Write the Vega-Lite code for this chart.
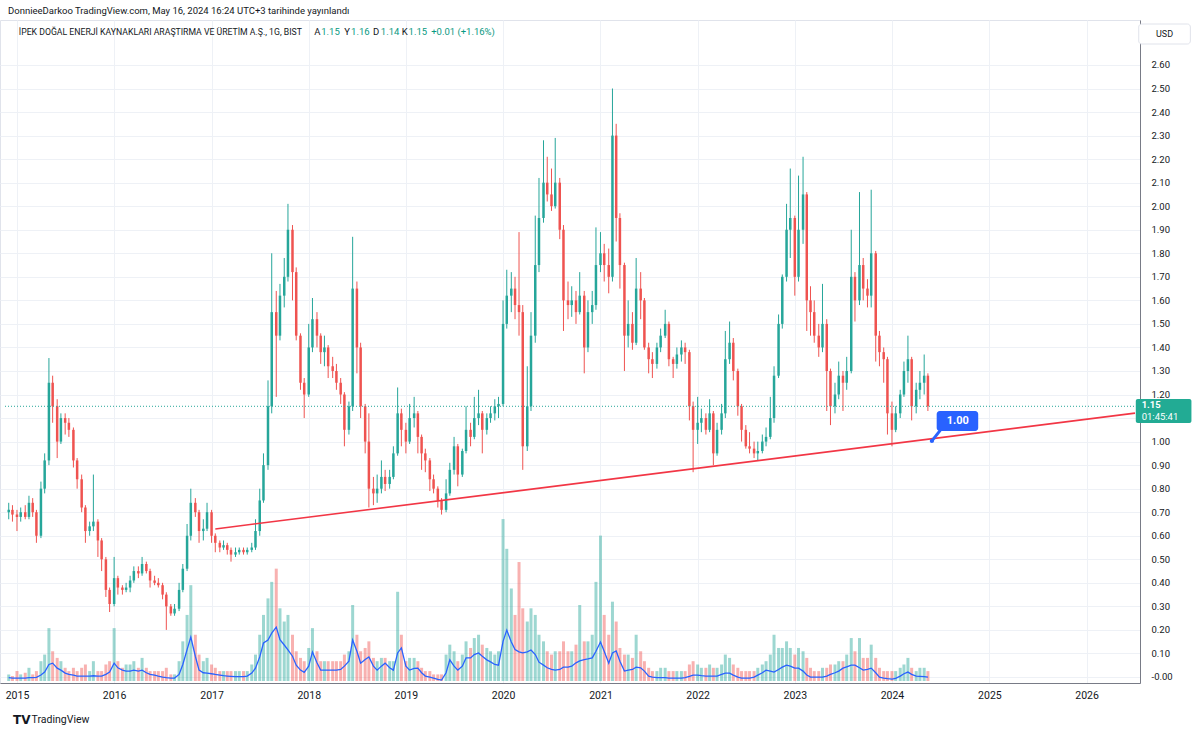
{
"$schema":"https://vega.github.io/schema/vega-lite/v6.json",
"width":1140,"height":663,"autosize":"none",
"padding":{"left":0,"top":20,"right":60,"bottom":51},
"background":"#ffffff",
"title":{"text":"DonnieeDarkoo TradingView.com, May 16, 2024 16:24 UTC+3 tarihinde yayınlandı","anchor":"start","frame":"group","offset":5,"dx":8,"fontSize":9.5,"fontWeight":"normal","font":"Roboto","color":"#131722"},
"config":{"view":{"stroke":"#e0e3eb"},"axis":{"gridColor":"#eef1f6","domainColor":"#787b86","labelFont":"Roboto","labelColor":"#131722"},"text":{"font":"Roboto"}},
"datasets":{"ohlc":[
{"d":"2014-12-01","o":0.70,"h":0.74,"l":0.67,"c":0.71,"v":2,"m":1.0},
{"d":"2014-12-15","o":0.71,"h":0.73,"l":0.66,"c":0.69,"v":1.5,"m":0.9},
{"d":"2015-01-01","o":0.69,"h":0.71,"l":0.62,"c":0.68,"v":3,"m":0.9},
{"d":"2015-01-15","o":0.68,"h":0.72,"l":0.66,"c":0.70,"v":2,"m":0.9},
{"d":"2015-02-01","o":0.70,"h":0.73,"l":0.67,"c":0.68,"v":2.5,"m":0.9},
{"d":"2015-02-15","o":0.68,"h":0.77,"l":0.67,"c":0.74,"v":4,"m":1.0},
{"d":"2015-03-01","o":0.74,"h":0.76,"l":0.68,"c":0.70,"v":2,"m":1.0},
{"d":"2015-03-15","o":0.70,"h":0.71,"l":0.57,"c":0.60,"v":3,"m":1.1},
{"d":"2015-04-01","o":0.60,"h":0.83,"l":0.59,"c":0.80,"v":6,"m":1.8},
{"d":"2015-04-15","o":0.80,"h":0.95,"l":0.78,"c":0.92,"v":8,"m":2.7},
{"d":"2015-05-01","o":0.92,"h":1.355,"l":0.90,"c":1.25,"v":16,"m":5.0},
{"d":"2015-05-15","o":1.25,"h":1.28,"l":1.08,"c":1.15,"v":9,"m":5.4},
{"d":"2015-06-01","o":1.15,"h":1.18,"l":0.93,"c":1.00,"v":7,"m":3.9},
{"d":"2015-06-15","o":1.00,"h":1.12,"l":0.99,"c":1.10,"v":6,"m":3.3},
{"d":"2015-07-01","o":1.10,"h":1.12,"l":1.03,"c":1.08,"v":4,"m":2.4},
{"d":"2015-07-15","o":1.08,"h":1.10,"l":1.02,"c":1.05,"v":3,"m":2.0},
{"d":"2015-08-01","o":1.05,"h":1.06,"l":0.89,"c":0.92,"v":4,"m":1.8},
{"d":"2015-08-15","o":0.92,"h":0.93,"l":0.80,"c":0.84,"v":3,"m":1.5},
{"d":"2015-09-01","o":0.84,"h":0.86,"l":0.70,"c":0.72,"v":4,"m":1.5},
{"d":"2015-09-15","o":0.72,"h":0.73,"l":0.57,"c":0.62,"v":5,"m":1.5},
{"d":"2015-10-01","o":0.62,"h":0.66,"l":0.60,"c":0.64,"v":3,"m":1.5},
{"d":"2015-10-15","o":0.64,"h":0.86,"l":0.62,"c":0.66,"v":6,"m":1.6},
{"d":"2015-11-01","o":0.66,"h":0.67,"l":0.51,"c":0.58,"v":3,"m":1.5},
{"d":"2015-11-15","o":0.58,"h":0.59,"l":0.45,"c":0.50,"v":3,"m":1.5},
{"d":"2015-12-01","o":0.50,"h":0.51,"l":0.34,"c":0.37,"v":5,"m":2.0},
{"d":"2015-12-15","o":0.37,"h":0.38,"l":0.276,"c":0.31,"v":6,"m":2.7},
{"d":"2016-01-01","o":0.31,"h":0.51,"l":0.30,"c":0.42,"v":16,"m":5.4},
{"d":"2016-01-15","o":0.42,"h":0.43,"l":0.35,"c":0.38,"v":6,"m":4.0},
{"d":"2016-02-01","o":0.38,"h":0.39,"l":0.35,"c":0.37,"v":4,"m":3.3},
{"d":"2016-02-15","o":0.37,"h":0.40,"l":0.36,"c":0.38,"v":5,"m":3.0},
{"d":"2016-03-01","o":0.38,"h":0.43,"l":0.36,"c":0.41,"v":5,"m":3.0},
{"d":"2016-03-15","o":0.41,"h":0.47,"l":0.40,"c":0.45,"v":6,"m":3.3},
{"d":"2016-04-01","o":0.45,"h":0.47,"l":0.42,"c":0.44,"v":4,"m":3.0},
{"d":"2016-04-15","o":0.44,"h":0.51,"l":0.43,"c":0.48,"v":7,"m":3.3},
{"d":"2016-05-01","o":0.48,"h":0.49,"l":0.44,"c":0.45,"v":4,"m":2.5},
{"d":"2016-05-15","o":0.45,"h":0.46,"l":0.38,"c":0.41,"v":3,"m":2.0},
{"d":"2016-06-01","o":0.41,"h":0.43,"l":0.39,"c":0.40,"v":3,"m":1.8},
{"d":"2016-06-15","o":0.40,"h":0.42,"l":0.38,"c":0.39,"v":3,"m":1.5},
{"d":"2016-07-01","o":0.39,"h":0.40,"l":0.33,"c":0.35,"v":3,"m":1.2},
{"d":"2016-07-15","o":0.35,"h":0.36,"l":0.20,"c":0.30,"v":4,"m":1.0},
{"d":"2016-08-01","o":0.30,"h":0.31,"l":0.26,"c":0.27,"v":2,"m":0.9},
{"d":"2016-08-15","o":0.27,"h":0.31,"l":0.26,"c":0.29,"v":2,"m":0.9},
{"d":"2016-09-01","o":0.29,"h":0.40,"l":0.28,"c":0.37,"v":6,"m":2.0},
{"d":"2016-09-15","o":0.37,"h":0.48,"l":0.36,"c":0.46,"v":12,"m":5.0},
{"d":"2016-10-01","o":0.46,"h":0.65,"l":0.45,"c":0.60,"v":20,"m":9.5},
{"d":"2016-10-15","o":0.60,"h":0.80,"l":0.58,"c":0.74,"v":29,"m":13.3},
{"d":"2016-11-01","o":0.74,"h":0.76,"l":0.68,"c":0.70,"v":14,"m":7.5},
{"d":"2016-11-15","o":0.70,"h":0.71,"l":0.57,"c":0.62,"v":8,"m":3.3},
{"d":"2016-12-01","o":0.62,"h":0.67,"l":0.58,"c":0.63,"v":6,"m":2.5},
{"d":"2016-12-15","o":0.63,"h":0.74,"l":0.62,"c":0.70,"v":7,"m":2.4},
{"d":"2017-01-01","o":0.70,"h":0.71,"l":0.57,"c":0.60,"v":5,"m":2.2},
{"d":"2017-01-15","o":0.60,"h":0.61,"l":0.53,"c":0.57,"v":4,"m":2.0},
{"d":"2017-02-01","o":0.57,"h":0.58,"l":0.53,"c":0.55,"v":3,"m":1.8},
{"d":"2017-02-15","o":0.55,"h":0.58,"l":0.54,"c":0.56,"v":3,"m":1.6},
{"d":"2017-03-01","o":0.56,"h":0.57,"l":0.52,"c":0.54,"v":3,"m":1.5},
{"d":"2017-03-15","o":0.54,"h":0.55,"l":0.49,"c":0.52,"v":3,"m":1.4},
{"d":"2017-04-01","o":0.52,"h":0.55,"l":0.51,"c":0.53,"v":3,"m":1.3},
{"d":"2017-04-15","o":0.53,"h":0.55,"l":0.52,"c":0.54,"v":3,"m":1.3},
{"d":"2017-05-01","o":0.54,"h":0.55,"l":0.52,"c":0.53,"v":3,"m":1.3},
{"d":"2017-05-15","o":0.53,"h":0.55,"l":0.52,"c":0.54,"v":3,"m":1.5},
{"d":"2017-06-01","o":0.54,"h":0.57,"l":0.53,"c":0.55,"v":5,"m":2.4},
{"d":"2017-06-15","o":0.55,"h":0.67,"l":0.54,"c":0.62,"v":8,"m":3.9},
{"d":"2017-07-01","o":0.62,"h":0.80,"l":0.60,"c":0.75,"v":14,"m":7.3},
{"d":"2017-07-15","o":0.75,"h":0.95,"l":0.74,"c":0.90,"v":20,"m":11.5},
{"d":"2017-08-01","o":0.90,"h":1.26,"l":0.88,"c":1.15,"v":25,"m":12.4},
{"d":"2017-08-15","o":1.15,"h":1.80,"l":1.12,"c":1.55,"v":30,"m":14.5},
{"d":"2017-09-01","o":1.55,"h":1.64,"l":1.19,"c":1.45,"v":34,"m":16.3},
{"d":"2017-09-15","o":1.45,"h":1.67,"l":1.43,"c":1.62,"v":22,"m":12.5},
{"d":"2017-10-01","o":1.62,"h":1.78,"l":1.57,"c":1.70,"v":18,"m":10.9},
{"d":"2017-10-15","o":1.70,"h":2.01,"l":1.68,"c":1.90,"v":20,"m":9.4},
{"d":"2017-11-01","o":1.90,"h":1.92,"l":1.60,"c":1.72,"v":14,"m":7.5},
{"d":"2017-11-15","o":1.72,"h":1.74,"l":1.43,"c":1.45,"v":9,"m":4.8},
{"d":"2017-12-01","o":1.45,"h":1.46,"l":1.22,"c":1.25,"v":7,"m":3.3},
{"d":"2017-12-15","o":1.25,"h":1.27,"l":1.10,"c":1.20,"v":6,"m":2.6},
{"d":"2018-01-01","o":1.20,"h":1.50,"l":1.19,"c":1.40,"v":10,"m":4.5},
{"d":"2018-01-15","o":1.40,"h":1.61,"l":1.38,"c":1.52,"v":16,"m":8.8},
{"d":"2018-02-01","o":1.52,"h":1.55,"l":1.40,"c":1.45,"v":9,"m":5.5},
{"d":"2018-02-15","o":1.45,"h":1.46,"l":1.33,"c":1.38,"v":6,"m":3.3},
{"d":"2018-03-01","o":1.38,"h":1.45,"l":1.32,"c":1.40,"v":6,"m":3.3},
{"d":"2018-03-15","o":1.40,"h":1.41,"l":1.27,"c":1.32,"v":6,"m":3.3},
{"d":"2018-04-01","o":1.32,"h":1.36,"l":1.27,"c":1.30,"v":6,"m":3.3},
{"d":"2018-04-15","o":1.30,"h":1.33,"l":1.22,"c":1.25,"v":6,"m":3.3},
{"d":"2018-05-01","o":1.25,"h":1.27,"l":1.16,"c":1.20,"v":6,"m":3.5},
{"d":"2018-05-15","o":1.20,"h":1.21,"l":0.98,"c":1.05,"v":8,"m":4.5},
{"d":"2018-06-01","o":1.05,"h":1.17,"l":1.03,"c":1.15,"v":9,"m":6.0},
{"d":"2018-06-15","o":1.15,"h":1.87,"l":1.13,"c":1.65,"v":23,"m":12.4},
{"d":"2018-07-01","o":1.65,"h":1.68,"l":1.29,"c":1.40,"v":14,"m":9.0},
{"d":"2018-07-15","o":1.40,"h":1.42,"l":1.10,"c":1.15,"v":9,"m":5.4},
{"d":"2018-08-01","o":1.15,"h":1.16,"l":0.95,"c":1.00,"v":10,"m":6.5},
{"d":"2018-08-15","o":1.00,"h":1.12,"l":0.72,"c":0.80,"v":12,"m":7.3},
{"d":"2018-09-01","o":0.80,"h":0.85,"l":0.73,"c":0.78,"v":7,"m":4.5},
{"d":"2018-09-15","o":0.78,"h":0.86,"l":0.74,"c":0.80,"v":6,"m":3.3},
{"d":"2018-10-01","o":0.80,"h":0.92,"l":0.78,"c":0.85,"v":7,"m":4.5},
{"d":"2018-10-15","o":0.85,"h":0.88,"l":0.79,"c":0.82,"v":7,"m":5.4},
{"d":"2018-11-01","o":0.82,"h":0.88,"l":0.80,"c":0.85,"v":6,"m":4.0},
{"d":"2018-11-15","o":0.85,"h":0.98,"l":0.84,"c":0.95,"v":6,"m":3.3},
{"d":"2018-12-01","o":0.95,"h":1.23,"l":0.94,"c":1.12,"v":27,"m":8.5},
{"d":"2018-12-15","o":1.12,"h":1.14,"l":0.98,"c":1.05,"v":14,"m":10.0},
{"d":"2019-01-01","o":1.05,"h":1.08,"l":0.95,"c":1.00,"v":6,"m":4.5},
{"d":"2019-01-15","o":1.00,"h":1.16,"l":0.99,"c":1.10,"v":7,"m":3.3},
{"d":"2019-02-01","o":1.10,"h":1.19,"l":1.06,"c":1.12,"v":7,"m":3.8},
{"d":"2019-02-15","o":1.12,"h":1.13,"l":0.95,"c":1.02,"v":6,"m":3.9},
{"d":"2019-03-01","o":1.02,"h":1.03,"l":0.88,"c":0.95,"v":4,"m":2.5},
{"d":"2019-03-15","o":0.95,"h":0.97,"l":0.87,"c":0.92,"v":3,"m":1.5},
{"d":"2019-04-01","o":0.92,"h":0.93,"l":0.79,"c":0.84,"v":3,"m":1.2},
{"d":"2019-04-15","o":0.84,"h":0.86,"l":0.78,"c":0.80,"v":2,"m":0.9},
{"d":"2019-05-01","o":0.80,"h":0.81,"l":0.72,"c":0.75,"v":2,"m":0.5},
{"d":"2019-05-15","o":0.75,"h":0.76,"l":0.69,"c":0.71,"v":2,"m":0.3},
{"d":"2019-06-01","o":0.71,"h":0.84,"l":0.70,"c":0.78,"v":8,"m":2.5},
{"d":"2019-06-15","o":0.78,"h":0.91,"l":0.77,"c":0.88,"v":11,"m":6.4},
{"d":"2019-07-01","o":0.88,"h":1.02,"l":0.86,"c":0.98,"v":9,"m":4.5},
{"d":"2019-07-15","o":0.98,"h":0.99,"l":0.81,"c":0.86,"v":6,"m":3.3},
{"d":"2019-08-01","o":0.86,"h":0.97,"l":0.85,"c":0.96,"v":8,"m":4.5},
{"d":"2019-08-15","o":0.96,"h":1.15,"l":0.95,"c":1.05,"v":12,"m":7.0},
{"d":"2019-09-01","o":1.05,"h":1.08,"l":0.98,"c":1.02,"v":10,"m":7.0},
{"d":"2019-09-15","o":1.02,"h":1.19,"l":1.01,"c":1.10,"v":13,"m":8.0},
{"d":"2019-10-01","o":1.10,"h":1.22,"l":1.07,"c":1.12,"v":14,"m":8.5},
{"d":"2019-10-15","o":1.12,"h":1.13,"l":0.95,"c":1.05,"v":11,"m":7.5},
{"d":"2019-11-01","o":1.05,"h":1.12,"l":1.03,"c":1.10,"v":10,"m":6.4},
{"d":"2019-11-15","o":1.10,"h":1.15,"l":1.08,"c":1.12,"v":9,"m":5.8},
{"d":"2019-12-01","o":1.12,"h":1.18,"l":1.09,"c":1.15,"v":8,"m":5.0},
{"d":"2019-12-15","o":1.15,"h":1.19,"l":1.10,"c":1.16,"v":9,"m":4.8},
{"d":"2020-01-01","o":1.16,"h":1.60,"l":1.15,"c":1.50,"v":49,"m":12.0},
{"d":"2020-01-15","o":1.50,"h":1.73,"l":1.48,"c":1.62,"v":40,"m":15.4},
{"d":"2020-02-01","o":1.62,"h":1.72,"l":1.55,"c":1.65,"v":28,"m":11.8},
{"d":"2020-02-15","o":1.65,"h":1.70,"l":1.52,"c":1.58,"v":20,"m":9.5},
{"d":"2020-03-01","o":1.58,"h":1.89,"l":1.45,"c":1.55,"v":36,"m":8.8},
{"d":"2020-03-15","o":1.55,"h":1.58,"l":0.88,"c":0.98,"v":22,"m":8.5},
{"d":"2020-04-01","o":0.98,"h":1.32,"l":0.96,"c":1.15,"v":18,"m":8.8},
{"d":"2020-04-15","o":1.15,"h":1.55,"l":1.13,"c":1.45,"v":22,"m":9.4},
{"d":"2020-05-01","o":1.45,"h":1.96,"l":1.42,"c":1.75,"v":20,"m":8.0},
{"d":"2020-05-15","o":1.75,"h":2.12,"l":1.72,"c":1.95,"v":14,"m":5.7},
{"d":"2020-06-01","o":1.95,"h":2.28,"l":1.93,"c":2.10,"v":12,"m":4.8},
{"d":"2020-06-15","o":2.10,"h":2.21,"l":2.02,"c":2.05,"v":9,"m":4.0},
{"d":"2020-07-01","o":2.05,"h":2.16,"l":1.98,"c":2.00,"v":8,"m":3.5},
{"d":"2020-07-15","o":2.00,"h":2.29,"l":1.99,"c":2.10,"v":9,"m":3.3},
{"d":"2020-08-01","o":2.10,"h":2.12,"l":1.86,"c":1.90,"v":9,"m":3.5},
{"d":"2020-08-15","o":1.90,"h":1.92,"l":1.47,"c":1.60,"v":12,"m":4.2},
{"d":"2020-09-01","o":1.60,"h":1.68,"l":1.52,"c":1.58,"v":9,"m":4.2},
{"d":"2020-09-15","o":1.58,"h":1.66,"l":1.53,"c":1.60,"v":9,"m":4.5},
{"d":"2020-10-01","o":1.60,"h":1.64,"l":1.50,"c":1.55,"v":11,"m":5.5},
{"d":"2020-10-15","o":1.55,"h":1.72,"l":1.54,"c":1.62,"v":23,"m":6.1},
{"d":"2020-11-01","o":1.62,"h":1.64,"l":1.29,"c":1.40,"v":12,"m":6.5},
{"d":"2020-11-15","o":1.40,"h":1.60,"l":1.38,"c":1.55,"v":12,"m":6.7},
{"d":"2020-12-01","o":1.55,"h":1.64,"l":1.50,"c":1.58,"v":14,"m":7.0},
{"d":"2020-12-15","o":1.58,"h":1.91,"l":1.56,"c":1.75,"v":30,"m":9.0},
{"d":"2021-01-01","o":1.75,"h":1.89,"l":1.72,"c":1.80,"v":44,"m":11.8},
{"d":"2021-01-15","o":1.80,"h":1.84,"l":1.68,"c":1.75,"v":20,"m":9.0},
{"d":"2021-02-01","o":1.75,"h":1.82,"l":1.63,"c":1.70,"v":14,"m":5.4},
{"d":"2021-02-15","o":1.70,"h":2.50,"l":1.68,"c":2.30,"v":24,"m":8.5},
{"d":"2021-03-01","o":2.30,"h":2.35,"l":1.85,"c":1.95,"v":18,"m":9.1},
{"d":"2021-03-15","o":1.95,"h":1.97,"l":1.65,"c":1.75,"v":10,"m":6.0},
{"d":"2021-04-01","o":1.75,"h":1.76,"l":1.30,"c":1.45,"v":8,"m":3.0},
{"d":"2021-04-15","o":1.45,"h":1.60,"l":1.40,"c":1.50,"v":8,"m":3.3},
{"d":"2021-05-01","o":1.50,"h":1.55,"l":1.39,"c":1.42,"v":7,"m":3.5},
{"d":"2021-05-15","o":1.42,"h":1.78,"l":1.41,"c":1.65,"v":14,"m":4.2},
{"d":"2021-06-01","o":1.65,"h":1.72,"l":1.52,"c":1.60,"v":9,"m":4.0},
{"d":"2021-06-15","o":1.60,"h":1.61,"l":1.39,"c":1.40,"v":6,"m":3.0},
{"d":"2021-07-01","o":1.40,"h":1.42,"l":1.29,"c":1.35,"v":4,"m":1.5},
{"d":"2021-07-15","o":1.35,"h":1.38,"l":1.27,"c":1.33,"v":3,"m":1.2},
{"d":"2021-08-01","o":1.33,"h":1.42,"l":1.31,"c":1.40,"v":3,"m":1.0},
{"d":"2021-08-15","o":1.40,"h":1.48,"l":1.38,"c":1.45,"v":4,"m":1.0},
{"d":"2021-09-01","o":1.45,"h":1.56,"l":1.44,"c":1.50,"v":4,"m":1.0},
{"d":"2021-09-15","o":1.50,"h":1.51,"l":1.32,"c":1.35,"v":3,"m":0.9},
{"d":"2021-10-01","o":1.35,"h":1.36,"l":1.27,"c":1.33,"v":3,"m":0.9},
{"d":"2021-10-15","o":1.33,"h":1.40,"l":1.31,"c":1.37,"v":3,"m":0.9},
{"d":"2021-11-01","o":1.37,"h":1.43,"l":1.34,"c":1.40,"v":3,"m":0.9},
{"d":"2021-11-15","o":1.40,"h":1.42,"l":1.33,"c":1.38,"v":3,"m":1.0},
{"d":"2021-12-01","o":1.38,"h":1.39,"l":1.09,"c":1.15,"v":5,"m":1.4},
{"d":"2021-12-15","o":1.15,"h":1.17,"l":0.87,"c":1.05,"v":6,"m":1.8},
{"d":"2022-01-01","o":1.05,"h":1.19,"l":0.99,"c":1.08,"v":5,"m":1.8},
{"d":"2022-01-15","o":1.08,"h":1.14,"l":1.04,"c":1.10,"v":4,"m":1.6},
{"d":"2022-02-01","o":1.10,"h":1.12,"l":1.03,"c":1.05,"v":4,"m":1.5},
{"d":"2022-02-15","o":1.05,"h":1.18,"l":1.04,"c":1.12,"v":5,"m":1.5},
{"d":"2022-03-01","o":1.12,"h":1.13,"l":0.90,"c":0.95,"v":4,"m":1.5},
{"d":"2022-03-15","o":0.95,"h":1.08,"l":0.94,"c":1.05,"v":4,"m":1.5},
{"d":"2022-04-01","o":1.05,"h":1.16,"l":1.03,"c":1.12,"v":5,"m":2.0},
{"d":"2022-04-15","o":1.12,"h":1.47,"l":1.10,"c":1.35,"v":8,"m":2.4},
{"d":"2022-05-01","o":1.35,"h":1.51,"l":1.33,"c":1.42,"v":7,"m":2.4},
{"d":"2022-05-15","o":1.42,"h":1.44,"l":1.26,"c":1.30,"v":5,"m":1.8},
{"d":"2022-06-01","o":1.30,"h":1.31,"l":1.11,"c":1.15,"v":4,"m":1.2},
{"d":"2022-06-15","o":1.15,"h":1.16,"l":1.00,"c":1.05,"v":3,"m":0.9},
{"d":"2022-07-01","o":1.05,"h":1.07,"l":0.97,"c":0.98,"v":3,"m":0.9},
{"d":"2022-07-15","o":0.98,"h":1.04,"l":0.95,"c":0.97,"v":3,"m":0.9},
{"d":"2022-08-01","o":0.97,"h":1.00,"l":0.93,"c":0.95,"v":3,"m":1.2},
{"d":"2022-08-15","o":0.95,"h":1.00,"l":0.92,"c":0.96,"v":4,"m":1.8},
{"d":"2022-09-01","o":0.96,"h":1.03,"l":0.95,"c":1.00,"v":5,"m":2.5},
{"d":"2022-09-15","o":1.00,"h":1.06,"l":0.98,"c":1.02,"v":6,"m":3.3},
{"d":"2022-10-01","o":1.02,"h":1.19,"l":1.01,"c":1.10,"v":8,"m":3.0},
{"d":"2022-10-15","o":1.10,"h":1.32,"l":1.08,"c":1.28,"v":14,"m":2.7},
{"d":"2022-11-01","o":1.28,"h":1.54,"l":1.27,"c":1.50,"v":10,"m":3.5},
{"d":"2022-11-15","o":1.50,"h":1.71,"l":1.48,"c":1.70,"v":10,"m":4.2},
{"d":"2022-12-01","o":1.70,"h":2.01,"l":1.68,"c":1.90,"v":12,"m":4.8},
{"d":"2022-12-15","o":1.90,"h":2.16,"l":1.78,"c":1.95,"v":10,"m":4.5},
{"d":"2023-01-01","o":1.95,"h":1.96,"l":1.62,"c":1.70,"v":8,"m":3.9},
{"d":"2023-01-15","o":1.70,"h":2.13,"l":1.68,"c":1.90,"v":10,"m":3.9},
{"d":"2023-02-01","o":1.90,"h":2.21,"l":1.84,"c":2.05,"v":9,"m":3.0},
{"d":"2023-02-15","o":2.05,"h":2.06,"l":1.47,"c":1.60,"v":7,"m":1.8},
{"d":"2023-03-01","o":1.60,"h":1.66,"l":1.45,"c":1.55,"v":4,"m":1.2},
{"d":"2023-03-15","o":1.55,"h":1.60,"l":1.42,"c":1.45,"v":3,"m":1.2},
{"d":"2023-04-01","o":1.45,"h":1.50,"l":1.36,"c":1.40,"v":3,"m":1.2},
{"d":"2023-04-15","o":1.40,"h":1.67,"l":1.38,"c":1.50,"v":4,"m":1.2},
{"d":"2023-05-01","o":1.50,"h":1.52,"l":1.13,"c":1.30,"v":4,"m":1.5},
{"d":"2023-05-15","o":1.30,"h":1.31,"l":1.07,"c":1.15,"v":5,"m":2.0},
{"d":"2023-06-01","o":1.15,"h":1.25,"l":1.12,"c":1.20,"v":5,"m":2.5},
{"d":"2023-06-15","o":1.20,"h":1.34,"l":1.18,"c":1.28,"v":6,"m":3.0},
{"d":"2023-07-01","o":1.28,"h":1.30,"l":1.13,"c":1.25,"v":6,"m":3.9},
{"d":"2023-07-15","o":1.25,"h":1.36,"l":1.22,"c":1.30,"v":8,"m":4.3},
{"d":"2023-08-01","o":1.30,"h":1.90,"l":1.29,"c":1.70,"v":13,"m":4.8},
{"d":"2023-08-15","o":1.70,"h":1.72,"l":1.51,"c":1.60,"v":9,"m":4.8},
{"d":"2023-09-01","o":1.60,"h":2.06,"l":1.58,"c":1.75,"v":13,"m":4.0},
{"d":"2023-09-15","o":1.75,"h":1.78,"l":1.60,"c":1.65,"v":7,"m":3.3},
{"d":"2023-10-01","o":1.65,"h":1.69,"l":1.57,"c":1.62,"v":7,"m":3.5},
{"d":"2023-10-15","o":1.62,"h":2.07,"l":1.57,"c":1.80,"v":11,"m":3.9},
{"d":"2023-11-01","o":1.80,"h":1.81,"l":1.34,"c":1.45,"v":7,"m":2.5},
{"d":"2023-11-15","o":1.45,"h":1.47,"l":1.32,"c":1.38,"v":4,"m":1.2},
{"d":"2023-12-01","o":1.38,"h":1.40,"l":1.25,"c":1.35,"v":3,"m":0.9},
{"d":"2023-12-15","o":1.35,"h":1.36,"l":1.03,"c":1.12,"v":3,"m":0.7},
{"d":"2024-01-01","o":1.12,"h":1.17,"l":0.98,"c":1.05,"v":3,"m":0.6},
{"d":"2024-01-15","o":1.05,"h":1.15,"l":1.04,"c":1.12,"v":3,"m":0.8},
{"d":"2024-02-01","o":1.12,"h":1.22,"l":1.10,"c":1.20,"v":4,"m":1.5},
{"d":"2024-02-15","o":1.20,"h":1.34,"l":1.19,"c":1.30,"v":5,"m":2.2},
{"d":"2024-03-01","o":1.30,"h":1.45,"l":1.25,"c":1.35,"v":7,"m":2.7},
{"d":"2024-03-15","o":1.35,"h":1.36,"l":1.09,"c":1.15,"v":4,"m":2.0},
{"d":"2024-04-01","o":1.15,"h":1.25,"l":1.12,"c":1.22,"v":3,"m":1.5},
{"d":"2024-04-15","o":1.22,"h":1.30,"l":1.18,"c":1.25,"v":4,"m":1.4},
{"d":"2024-05-01","o":1.25,"h":1.37,"l":1.20,"c":1.28,"v":4,"m":1.3},
{"d":"2024-05-15","o":1.28,"h":1.29,"l":1.13,"c":1.15,"v":3,"m":1.2}
]},
"encoding":{"x":{"field":"d","type":"temporal","title":null,
 "scale":{"type":"utc","domain":[{"year":2014,"month":11,"date":17,"utc":true},{"year":2026,"month":7,"date":2,"utc":true}]},
 "axis":{"format":"%Y","values":[{"year":2015,"month":1,"date":1,"utc":true},{"year":2016,"month":1,"date":1,"utc":true},{"year":2017,"month":1,"date":1,"utc":true},{"year":2018,"month":1,"date":1,"utc":true},{"year":2019,"month":1,"date":1,"utc":true},{"year":2020,"month":1,"date":1,"utc":true},{"year":2021,"month":1,"date":1,"utc":true},{"year":2022,"month":1,"date":1,"utc":true},{"year":2023,"month":1,"date":1,"utc":true},{"year":2024,"month":1,"date":1,"utc":true},{"year":2025,"month":1,"date":1,"utc":true},{"year":2026,"month":1,"date":1,"utc":true}],
 "labelFlush":false,"labelOverlap":false,"ticks":false,"labelPadding":7,"labelFontSize":10.5,"grid":true,"domainColor":"#787b86"}}},
"resolve":{"scale":{"y":"independent"}},
"layer":[
 {"data":{"name":"ohlc"},"layer":[
  {"mark":{"type":"bar","size":3,"opacity":0.45},"encoding":{"y":{"field":"v","type":"quantitative","scale":{"domain":[-0.6,200],"nice":false,"zero":false},"axis":null},"y2":{"datum":0},
   "color":{"condition":{"test":"datum.c >= datum.o","value":"#26a69a"},"value":"#ef5350"}}},
  {"mark":{"type":"line","color":"#2962ff","strokeWidth":1.3},"encoding":{"y":{"field":"m","type":"quantitative","scale":{"domain":[-0.6,200],"nice":false,"zero":false},"axis":null}}}
 ]},
 {"encoding":{"y":{"field":"p","type":"quantitative","title":null,"scale":{"domain":[-0.0255,2.791],"nice":false,"zero":false},
     "axis":{"orient":"right","values":[0,0.1,0.2,0.3,0.4,0.5,0.6,0.7,0.8,0.9,1.0,1.1,1.2,1.3,1.4,1.5,1.6,1.7,1.8,1.9,2.0,2.1,2.2,2.3,2.4,2.5,2.6],"labelExpr":"abs(datum.value) < 0.001 ? '-0.00' : (abs(datum.value - 1.1) < 0.001 ? '' : format(datum.value, '.2f'))","ticks":false,"labelPadding":11,"labelFontSize":9.5,"labelColor":"#131722","grid":true,"domainColor":"#787b86"}}},
  "layer":[
  {"data":{"name":"ohlc"},"mark":{"type":"rule","strokeWidth":1},"encoding":{"y":{"field":"l","type":"quantitative","title":null,"scale":{"domain":[-0.0255,2.791],"nice":false,"zero":false}},
   "y2":{"field":"h"},"color":{"condition":{"test":"datum.c >= datum.o","value":"#26a69a"},"value":"#ef5350"}}},
  {"data":{"name":"ohlc"},"mark":{"type":"bar","size":2.5},"encoding":{"y":{"field":"o","type":"quantitative","title":null,"scale":{"domain":[-0.0255,2.791],"nice":false,"zero":false}},"y2":{"field":"c"},
   "color":{"condition":{"test":"datum.c >= datum.o","value":"#26a69a"},"value":"#ef5350"}}},
  {"data":{"values":[{"d":"2014-11-17","d2":"2026-07-02","p":1.15}]},"mark":{"type":"rule","color":"#26a69a","strokeDash":[1,2],"strokeWidth":1},
   "encoding":{"x2":{"field":"d2"}}},
  {"data":{"values":[{"d":"2017-01-15","p":0.629},{"d":"2026-07-02","p":1.121}]},"mark":{"type":"line","color":"#f23645","strokeWidth":1.6}},
  {"data":{"values":[{"d":"2024-05-30","p":1.003},{"d":"2024-07-01","p":1.049}]},"mark":{"type":"line","color":"#2962ff","strokeWidth":3}},
  {"data":{"values":[{"d":"2024-05-30","p":1.003}]},"mark":{"type":"point","filled":true,"color":"#2962ff","size":18,"opacity":1}},
  {"data":{"values":[{"d":"2024-06-17","d2":"2024-11-20","p":1.045,"p2":1.130}]},"mark":{"type":"rect","color":"#2962ff","cornerRadius":3},
   "encoding":{"x2":{"field":"d2"},"y2":{"field":"p2"}}},
  {"data":{"values":[{"d":"2024-09-04","p":1.088,"t":"1.00"}]},"mark":{"type":"text","color":"#ffffff","fontWeight":"bold","fontSize":11,"align":"center","baseline":"middle"},
   "encoding":{"text":{"field":"t"}}},
  {"data":{"values":[{"d":"2026-07-05","d2":"2027-01-30","p":1.079,"p2":1.181}]},"mark":{"type":"rect","color":"#22ab94","cornerRadius":2},
   "encoding":{"x2":{"field":"d2"},"y2":{"field":"p2"}}},
  {"data":{"values":[{"d":"2026-07-27","p":1.155,"t":"1.15"}]},"mark":{"type":"text","color":"#ffffff","fontWeight":"bold","fontSize":9.5,"align":"left","baseline":"middle"},
   "encoding":{"text":{"field":"t"}}},
  {"data":{"values":[{"d":"2026-07-27","p":1.104,"t":"01:45:41"}]},"mark":{"type":"text","color":"#ffffff","fontSize":9.5,"align":"left","baseline":"middle"},
   "encoding":{"text":{"field":"t"}}},
  {"data":{"values":[{"d":"2026-07-16","d2":"2027-01-26","p":2.689,"p2":2.774}]},"mark":{"type":"rect","fill":"#ffffff","stroke":"#e0e3eb","cornerRadius":3},
   "encoding":{"x2":{"field":"d2"},"y2":{"field":"p2"}}},
  {"data":{"values":[{"d":"2026-10-21","p":2.731,"t":"USD"}]},"mark":{"type":"text","color":"#131722","fontSize":9,"align":"center","baseline":"middle"},
   "encoding":{"text":{"field":"t"}}},
  {"data":{"values":[{"d":"2015-01-08","p":2.74,"t":"İPEK DOĞAL ENERJİ KAYNAKLARI ARAŞTIRMA VE ÜRETİM A.Ş., 1G, BIST"}]},
   "mark":{"type":"text","color":"#131722","fontSize":8.7,"align":"left","baseline":"middle"},
   "encoding":{"text":{"field":"t"}}},
  {"data":{"values":[{"d":"2018-01-22","p":2.74,"t":"A"},{"d":"2018-05-14","p":2.74,"t":"Y"},{"d":"2018-08-30","p":2.74,"t":"D"},{"d":"2018-12-16","p":2.74,"t":"K"}]},
   "mark":{"type":"text","color":"#131722","fontSize":9.5,"align":"left","baseline":"middle"},
   "encoding":{"text":{"field":"t"}}},
  {"data":{"values":[{"d":"2018-02-17","p":2.74,"t":"1.15"},{"d":"2018-06-09","p":2.74,"t":"1.16"},{"d":"2018-09-29","p":2.74,"t":"1.14"},{"d":"2019-01-11","p":2.74,"t":"1.15"},{"d":"2019-04-06","p":2.74,"t":"+0.01 (+1.16%)"}]},
   "mark":{"type":"text","color":"#089981","fontSize":9.5,"align":"left","baseline":"middle"},
   "encoding":{"text":{"field":"t"}}},
  {"data":{"values":[{"d":"2014-12-17","p":-0.183,"t":"TV"}]},"mark":{"type":"text","color":"#131722","fontSize":12,"fontWeight":"bold","font":"DejaVu Sans","align":"left","baseline":"middle"},
   "encoding":{"text":{"field":"t"}}},
  {"data":{"values":[{"d":"2015-02-25","p":-0.183,"t":"TradingView"}]},"mark":{"type":"text","color":"#131722","fontSize":10.5,"align":"left","baseline":"middle"},
   "encoding":{"text":{"field":"t"}}}
 ]}
]
}
